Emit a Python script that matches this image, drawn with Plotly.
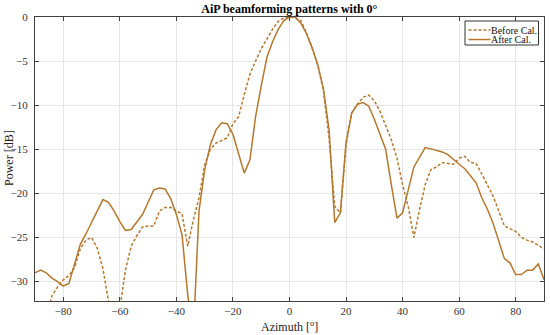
import plotly.graph_objects as go

# Azimuth sample angles (degrees)
az_after = [-90, -88, -86, -84, -82, -80, -78, -76, -74, -72, -70, -68, -66, -64, -62, -60,
            -58, -56, -54, -52, -50, -48, -46, -44, -42, -40, -38, -36, -34, -32, -30, -28,
            -26, -24, -22, -20, -18, -16, -14, -12, -10, -8, -6, -4, -2, 0, 2, 4, 6, 8, 10,
            12, 14, 16, 18, 20, 22, 24, 26, 28, 30, 32, 34, 36, 38, 40, 42, 44, 46, 48, 50,
            52, 54, 56, 58, 60, 62, 64, 66, 68, 70, 72, 74, 76, 78, 80, 82, 84, 86, 88, 90]
after_cal = [-29.0, -28.7, -29.0, -29.6, -30.0, -30.5, -30.2, -28.1, -25.8, -24.6, -23.3, -21.9,
             -20.7, -21.0, -22.0, -23.2, -24.2, -24.1, -23.3, -22.4, -21.0, -19.6, -19.4, -19.5,
             -20.6, -22.4, -24.7, -31.5, -36.0, -22.0, -17.3, -14.5, -12.8, -12.0, -12.1, -13.3,
             -15.5, -17.7, -16.2, -11.3, -7.8, -4.6, -2.8, -1.4, -0.4, 0.0, 0.0, -0.7, -1.9,
             -3.5, -5.4, -8.2, -12.8, -23.3, -22.2, -14.2, -10.9, -9.9, -9.7, -10.1, -11.6,
             -13.2, -15.0, -19.0, -22.8, -22.2, -19.6, -17.0, -15.9, -14.8, -14.95, -15.1,
             -15.3, -15.6, -16.2, -16.7, -17.2, -18.0, -18.8, -20.5, -21.8, -23.4, -25.5,
             -27.4, -27.9, -29.2, -29.2, -28.7, -28.7, -28.0, -29.8]

az_before = [-86, -84, -82, -80, -78, -76, -74, -72, -70, -68, -66, -64, -62, -60, -58, -56,
             -54, -52, -50, -48, -46, -44, -42, -40, -38, -36, -34, -32, -30, -28, -26, -24,
             -22, -20, -18, -16, -14, -12, -10, -8, -6, -4, -2, 0, 2, 4, 6, 8, 10, 12, 14, 16,
             18, 20, 22, 24, 26, 28, 30, 32, 34, 36, 38, 40, 42, 44, 46, 48, 50, 52, 54, 56,
             58, 60, 62, 64, 66, 68, 70, 72, 74, 76, 78, 80, 82, 84, 86, 88, 90]
before_cal = [-34.0, -31.6, -30.6, -29.8, -29.3, -28.4, -26.3, -25.3, -25.0, -26.2, -28.5,
              -32.5, -36.0, -33.0, -28.7, -26.0, -24.8, -23.8, -23.7, -23.7, -22.0, -21.6,
              -21.6, -22.0, -22.3, -26.0, -23.0, -20.5, -16.8, -15.0, -14.3, -14.0, -13.7,
              -12.1, -11.3, -8.8, -6.5, -5.0, -3.6, -2.5, -1.4, -0.5, -0.1, 0.0, -0.1, -0.4,
              -1.8, -3.5, -5.5, -8.3, -13.8, -21.5, -22.2, -14.5, -10.9, -9.9, -9.1, -8.85,
              -9.5, -10.7, -12.4, -13.9, -16.0, -19.0, -21.5, -25.0, -21.8, -19.0, -17.3,
              -17.0, -16.5, -16.6, -16.7, -16.0, -15.8, -16.5, -16.6, -17.8, -19.0, -20.3,
              -22.0, -23.7, -24.0, -24.3, -25.0, -25.3, -25.5, -25.9, -26.3]

series_names = ["Before Cal.", "After Cal."]
x_ticks = [-80, -60, -40, -20, 0, 20, 40, 60, 80]
y_ticks = [-30, -25, -20, -15, -10, -5, 0]

color = "#B5782C"
font = "Liberation Serif"
W, H = 550, 335
ml, mr, mt, mb = 35, 6, 17, 34
pw, ph = W - ml - mr, H - mt - mb


def px_x(p):
    return (p - ml) / pw


def px_y(p):
    return (H - mb - p) / ph


fig = go.Figure()
fig.add_trace(go.Scatter(x=az_before, y=before_cal, mode="lines", name=series_names[0],
                         line=dict(color=color, width=1.5, dash="3px,2px")))
fig.add_trace(go.Scatter(x=az_after, y=after_cal, mode="lines", name=series_names[1],
                         line=dict(color=color, width=1.5)))

axis_common = dict(showline=True, linecolor="#404040", linewidth=1, mirror="ticks",
                   ticks="inside", ticklen=4, tickcolor="#404040", automargin=False,
                   showgrid=True, gridcolor="#E6E6E6", gridwidth=1, zeroline=False,
                   tickfont=dict(family=font, size=11, color="#333333"))

# legend drawn as shapes + text (compact, MATLAB-like)
shapes = [
    dict(type="rect", xref="paper", yref="paper", x0=px_x(465), x1=px_x(538.5),
         y0=px_y(45), y1=px_y(21), line=dict(color="#333333", width=1), fillcolor="white",
         layer="above"),
    dict(type="line", xref="paper", yref="paper", x0=px_x(468.5), x1=px_x(490.5),
         y0=px_y(30), y1=px_y(30), line=dict(color=color, width=1.5, dash="3px,2px"),
         layer="above"),
    dict(type="line", xref="paper", yref="paper", x0=px_x(468.5), x1=px_x(490.5),
         y0=px_y(39.5), y1=px_y(39.5), line=dict(color=color, width=1.5), layer="above"),
]
annotations = [
    dict(text=series_names[0], xref="paper", yref="paper", x=px_x(490), y=px_y(30),
         xanchor="left", yanchor="middle", showarrow=False, borderpad=0,
         font=dict(family=font, size=10, color="#111111")),
    dict(text=series_names[1], xref="paper", yref="paper", x=px_x(490), y=px_y(39.5),
         xanchor="left", yanchor="middle", showarrow=False, borderpad=0,
         font=dict(family=font, size=10, color="#111111")),
    dict(text="Azimuth [<sup>o</sup>]", xref="paper", yref="paper", x=0.5, y=px_y(326),
         xanchor="center", yanchor="middle", showarrow=False,
         font=dict(family=font, size=12, color="#222222")),
    dict(text="Power [dB]", xref="paper", yref="paper", x=px_x(9), y=px_y(158),
         xanchor="center", yanchor="middle", showarrow=False, textangle=-90,
         font=dict(family=font, size=12, color="#222222")),
]

fig.update_layout(
    width=W, height=H,
    margin=dict(l=ml, r=mr, t=mt, b=mb),
    paper_bgcolor="white", plot_bgcolor="white",
    font=dict(family=font, size=11, color="#222222"),
    title=dict(text="<b>AiP beamforming patterns with 0°</b>", x=0.526, xanchor="center",
               y=1 - 8.5 / H, yanchor="middle", yref="container",
               font=dict(family=font, size=12, color="#000000")),
    xaxis=dict(range=[-90, 90], tickvals=x_ticks, **axis_common),
    yaxis=dict(range=[-32.2, 0], tickvals=y_ticks, ticklabelstandoff=4, **axis_common),
    showlegend=False,
    shapes=shapes,
    annotations=annotations,
)

fig.write_html("out.html", config={"displayModeBar": False},
               post_script="document.body.style.margin='0';document.body.style.padding='0';")
